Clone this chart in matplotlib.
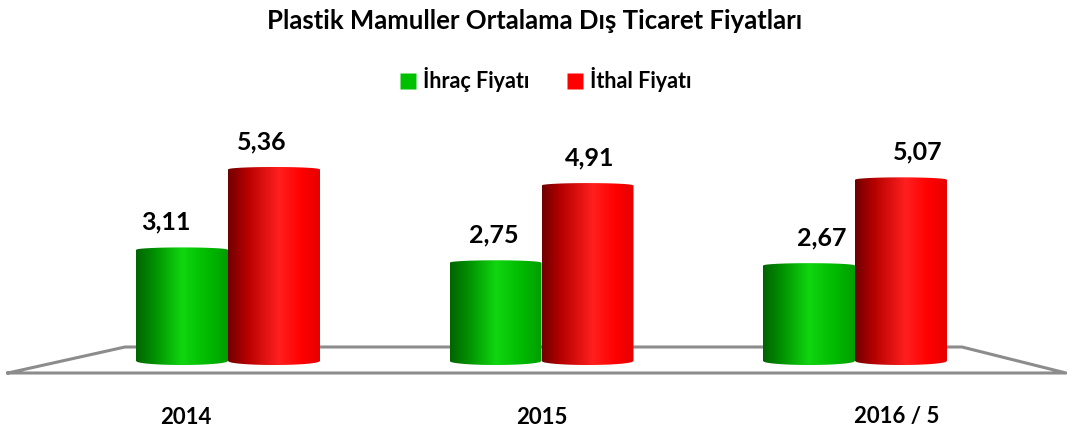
import numpy as np
import matplotlib
matplotlib.use('Agg')
import matplotlib.pyplot as plt
from matplotlib.path import Path
from matplotlib.patches import PathPatch
from matplotlib.lines import Line2D
from matplotlib.colors import LinearSegmentedColormap

plt.rcParams['font.family'] = ['Lato', 'DejaVu Sans']

# data
categories = ['2014', '2015', '2016 / 5']
ihrac = [3.11, 2.75, 2.67]
ithal = [5.36, 4.91, 5.07]
value_labels_ihrac = ['3,11', '2,75', '2,67']
value_labels_ithal = ['5,36', '4,91', '5,07']

W, H = 1067, 432
fig = plt.figure(figsize=(W / 100, H / 100), dpi=100)
ax = fig.add_axes([0, 0, 1, 1])
ax.axis('off')

# pixel mapping: group centre 0 -> 228px, 313.5 px per group; baseline 361px, 35.75 px per unit
px_per_x = 313.5
px_per_y = 35.75
xlim = (-228 / px_per_x, (W - 228) / px_per_x)
ylim = ((361 - H) / px_per_y, 361 / px_per_y)

green_cmap = LinearSegmentedColormap.from_list('g', [
    (0.0, '#006400'), (0.2, '#009000'), (0.5, '#10d610'),
    (0.8, '#00b800'), (1.0, '#009e00')])
red_cmap = LinearSegmentedColormap.from_list('r', [
    (0.0, '#700000'), (0.2, '#b40000'), (0.55, '#ff2020'),
    (0.8, '#ff0000'), (1.0, '#e60000')])

x = np.arange(len(categories))
w = 92 / px_per_x
ry = 4 / px_per_y

# floor (decoration, figure pixels)
floor = [(8, 373), (125, 347), (962, 347), (1066, 373), (8, 373)]
fx = [a / W for a, b in floor]
fy = [1 - b / H for a, b in floor]
ax.plot(fx, fy, transform=fig.transFigure, color='#8c8c8c', lw=2.2, zorder=1)

b1 = ax.bar(x - w / 2, ihrac, width=w, color='none', edgecolor='none')
b2 = ax.bar(x + w / 2, ithal, width=w, color='none', edgecolor='none')

grad = np.linspace(0, 1, 256).reshape(1, -1)


def cylinder(rect, cmap):
    x0, bw, h = rect.get_x(), rect.get_width(), rect.get_height()
    t = np.linspace(-1, 1, 60)
    xs = x0 + bw / 2 + t * bw / 2
    bump = ry * np.sqrt(1 - t ** 2)
    top = list(zip(xs, h + bump * 0.6))
    bottom = list(zip(xs[::-1], -bump[::-1]))
    verts = top + bottom + [top[0]]
    codes = [Path.MOVETO] + [Path.LINETO] * (len(verts) - 2) + [Path.CLOSEPOLY]
    clip = PathPatch(Path(verts, codes), facecolor='none', edgecolor='none')
    ax.add_patch(clip)
    im = ax.imshow(grad, cmap=cmap, extent=(x0, x0 + bw, -ry, h + ry),
                   aspect='auto', interpolation='bicubic', zorder=2)
    im.set_clip_path(clip)


for r in b1:
    cylinder(r, green_cmap)
for r in b2:
    cylinder(r, red_cmap)

mid = 1.0
for i in range(len(categories)):
    xg = x[i] - w / 2
    xr = x[i] + w / 2
    ax.text(xg + 0.046 * (xg - mid), ihrac[i] + 0.78, value_labels_ihrac[i],
            ha='center', va='center', fontsize=18, fontweight='bold', color='black')
    ax.text(xr + 0.046 * (xr - mid), ithal[i] + 0.78, value_labels_ithal[i],
            ha='center', va='center', fontsize=18, fontweight='bold', color='black')
    ax.text(x[i] + 0.134 * (x[i] - mid), (361 - 417) / px_per_y, categories[i],
            ha='center', va='center', fontsize=16, fontweight='bold', color='black')

ax.set_xlim(*xlim)
ax.set_ylim(*ylim)

fig.text(0.501, 1 - 21 / H, 'Plastik Mamuller Ortalama Dış Ticaret Fiyatları',
         ha='center', va='center', fontsize=18.5, fontweight='bold')

handles = [Line2D([], [], marker='s', linestyle='none', markersize=11,
                  markerfacecolor='#00c000', markeredgecolor='none'),
           Line2D([], [], marker='s', linestyle='none', markersize=11,
                  markerfacecolor='#ff0000', markeredgecolor='none')]
fig.legend(handles, ['İhraç Fiyatı', 'İthal Fiyatı'], loc='center',
           bbox_to_anchor=(0.51, 1 - 80 / H), ncol=2, frameon=False,
           prop={'size': 15.5, 'weight': 'bold'}, handletextpad=0.2,
           columnspacing=1.6, handlelength=1.0)

fig.savefig('out.png', dpi=100, facecolor='white')
